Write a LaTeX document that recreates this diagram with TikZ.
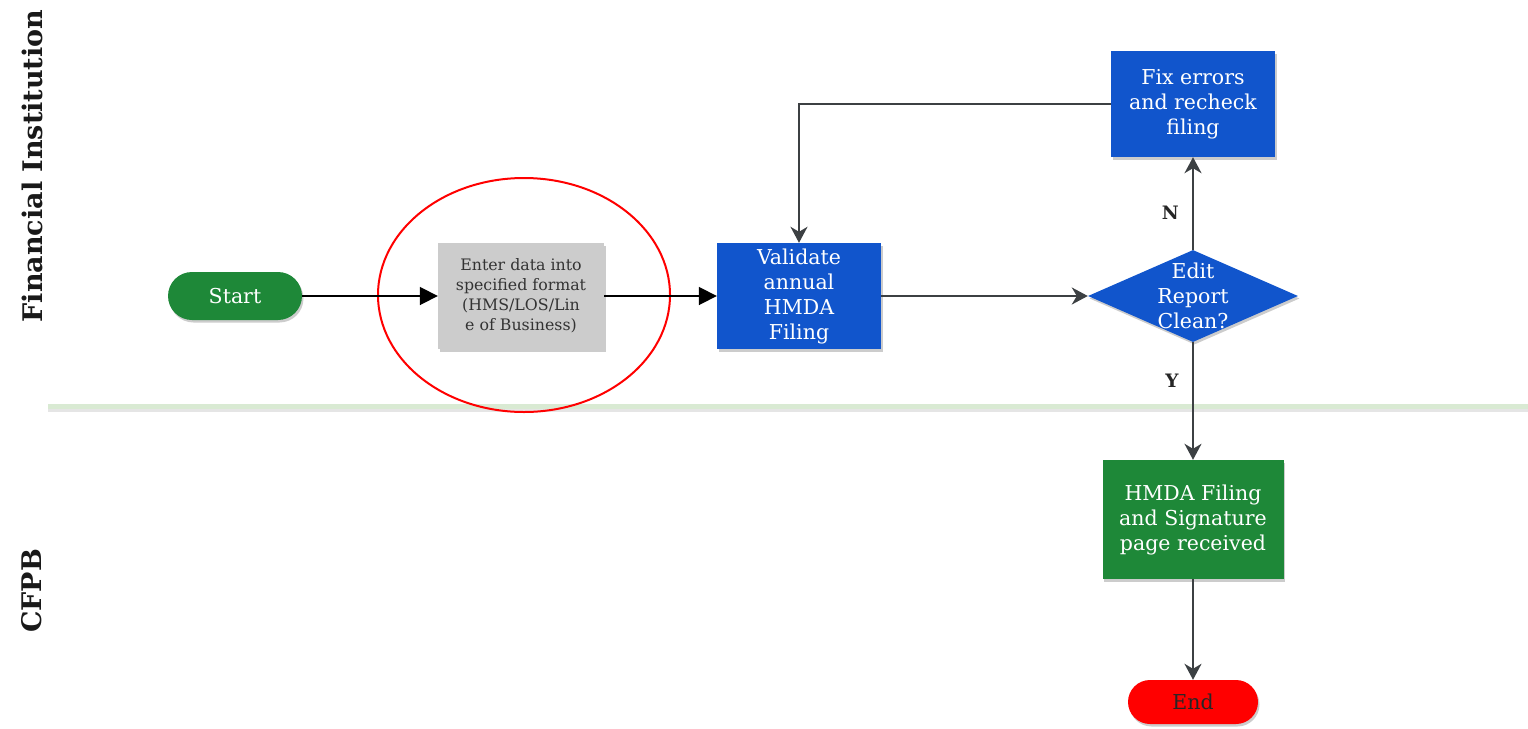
\documentclass[tikz,border=0pt]{standalone}
\usepackage{fontspec}
\setmainfont{DejaVu Serif}
\usetikzlibrary{shapes.geometric,shapes.misc,arrows.meta,shadows}
\definecolor{stepblue}{HTML}{1155CC}
\definecolor{stepgreen}{HTML}{1E8838}
\definecolor{stepgray}{HTML}{CCCCCC}
\definecolor{lanegreen}{HTML}{D9EAD3}
\definecolor{wire}{HTML}{3C4043}
\begin{document}
\begin{tikzpicture}[x=1pt,y=-1pt,
  softshadow/.style={drop shadow={shadow xshift=1.5pt,shadow yshift=-2.5pt,opacity=0.2,fill=black}},
  procbox/.style={rectangle,inner sep=0pt,align=center,text=white,fill=stepblue,
    font=\fontsize{20.5}{25}\selectfont,softshadow},
  pill/.style={rounded rectangle,inner sep=0pt,font=\fontsize{20.5}{24}\selectfont,softshadow},
  decision/.style={diamond,inner sep=0pt,fill=stepblue,minimum width=210pt,minimum height=92pt,softshadow},
  lane/.style={rotate=90,font=\bfseries\fontsize{27}{30}\selectfont,text=black!90},
  yn/.style={font=\bfseries\fontsize{18.5}{20}\selectfont,text=black!85},
  bigtip/.style={-{Triangle[length=18pt,width=18pt]},line width=1.8pt,draw=black},
  conn/.style={-{Stealth[length=16pt,width=17pt,inset=5pt]},line width=2pt,draw=wire},
]
\useasboundingbox (0,0) rectangle (1528,728);

% lane labels
\node[lane] (laneFI) at (32,166) {Financial Institution};
\node[lane] (laneCFPB) at (32,591) {CFPB};

% lane divider
\draw[line width=4pt,draw=black,opacity=0.1] (48,409.5) -- (1528,409.5);
\draw[line width=5pt,draw=lanegreen] (48,406) -- (1528,406);

% process nodes
\node[pill,fill=stepgreen,text=white,minimum width=134pt,minimum height=48pt] (start) at (235,296) {Start};
\node[rectangle,inner sep=0pt,fill=stepgray,text=black!80,align=center,
  minimum width=166pt,minimum height=106pt,font=\fontsize{15.8}{20}\selectfont,softshadow]
  (enter) at (521,296) {Enter data into\\specified format\\(HMS/LOS/Lin\\e of Business)};
\node[procbox,minimum width=164pt,minimum height=106pt] (validate) at (799,296)
  {Validate\\annual\\HMDA\\Filing};
\node[decision,label={[text=white,align=center,font=\fontsize{20.5}{25}\selectfont]center:Edit\\Report\\Clean?}]
  (check) at (1193,296) {};
\node[procbox,minimum width=164pt,minimum height=106pt] (fix) at (1193,104)
  {Fix errors\\and recheck\\filing};
\node[procbox,fill=stepgreen,minimum width=181pt,minimum height=119pt] (received) at (1193,519.5)
  {HMDA Filing\\and Signature\\page received};
\node[pill,fill=red,text=black!85,minimum width=130pt,minimum height=44pt] (finish) at (1193,702) {End};

% highlight ring
\node[ellipse,draw=red,line width=2pt,minimum width=292pt,minimum height=234pt] (ring) at (524,295) {};

% connectors
\draw[bigtip] (start) -- (enter);
\draw[bigtip] (enter) -- (validate);
\draw[conn] (validate) -- (check);
\draw[conn] (check.north) -- node[yn,left=10pt,pos=0.4] (nlab) {N} (fix.south);
\draw[conn] (fix.west) -| (validate.north);
\draw[conn] (check.south) -- node[yn,left=10pt,pos=0.33] (ylab) {Y} (received.north);
\draw[conn] (received.south) -- (finish.north);
\end{tikzpicture}
\end{document}
